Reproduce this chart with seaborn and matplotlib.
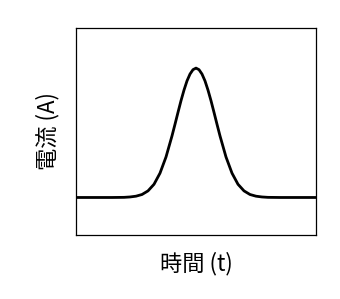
import matplotlib
matplotlib.use("Agg")
import matplotlib.pyplot as plt
import seaborn as sns
import pandas as pd

# Values (time vs current)
time = [0.0, 0.5, 1.0, 1.5, 2.0, 2.25, 2.5, 2.75, 3.0, 3.25, 3.5, 3.75, 4.0,
        4.125, 4.25, 4.375, 4.5, 4.625, 4.75, 4.875, 5.0, 5.125, 5.25, 5.375,
        5.5, 5.625, 5.75, 5.875, 6.0, 6.25, 6.5, 6.75, 7.0, 7.25, 7.5,
        7.75, 8.0, 8.5, 9.0, 9.5, 10.0]
current = [0.0, 0.0, 0.0, 0.0, 0.001, 0.004, 0.010, 0.023, 0.051, 0.102, 0.188,
           0.313, 0.476, 0.566, 0.658, 0.748, 0.830, 0.901, 0.954, 0.988, 1.0,
           0.988, 0.954, 0.901, 0.830, 0.748, 0.658, 0.566, 0.476,
           0.313, 0.188, 0.102, 0.051, 0.023, 0.010, 0.004, 0.001, 0.0, 0.0,
           0.0, 0.0]
xlabel = "時間 (t)"
ylabel = "電流 (A)"

sns.set_style("white")
plt.rcParams['font.family'] = ['Noto Sans CJK JP', 'DejaVu Sans']

df = pd.DataFrame({"t": time, "I": current})

fig = plt.figure(figsize=(3.4, 2.99), dpi=100)
ax = fig.add_axes([76/340, 1-235/299, 240/340, 207/299])
sns.lineplot(data=df, x="t", y="I", ax=ax, color="black", linewidth=2.0)
ax.set_xlim(0, 10)
ax.set_ylim(-0.29, 1.31)
ax.set_xticks([])
ax.set_yticks([])
ax.set_xlabel(xlabel, fontsize=16, labelpad=12, color="black")
ax.set_ylabel(ylabel, fontsize=16, labelpad=12, color="black")
for s in ax.spines.values():
    s.set_color("black")
    s.set_linewidth(0.9)
    s.set_visible(True)

fig.savefig("out.png", dpi=100)
